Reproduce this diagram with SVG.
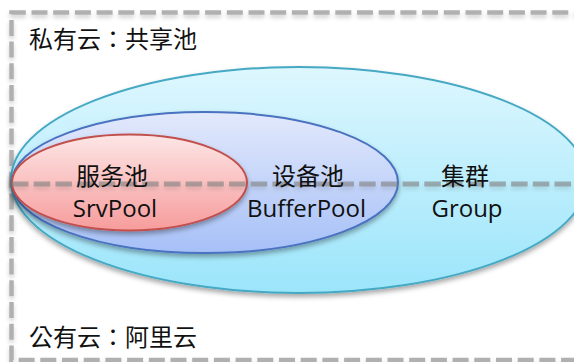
<svg xmlns="http://www.w3.org/2000/svg" width="574" height="362" viewBox="0 0 574 362">
  <style>
    .dash { fill: none; stroke: #b0b0b0; stroke-width: 4.5; stroke-dasharray: 16 5.7; }
    .mid { fill: none; stroke: #7f7f7f; stroke-opacity: 0.6; stroke-width: 5; stroke-dasharray: 16.5 5.2; }
    .lbl { font-family: "Open Sans", "Noto Sans CJK SC", sans-serif; font-size: 24px; fill: #111; text-anchor: middle; }
    .cap { font-family: "Noto Sans CJK TC", "Noto Sans CJK SC", sans-serif; font-size: 24px; fill: #111; }
  </style>
  <defs>
    <linearGradient id="gBig" x1="0" y1="0" x2="0" y2="1">
      <stop offset="0" stop-color="#def7fe"/>
      <stop offset="1" stop-color="#9be5fb"/>
    </linearGradient>
    <linearGradient id="gMid" x1="0" y1="0" x2="0" y2="1">
      <stop offset="0" stop-color="#e3e9fc"/>
      <stop offset="1" stop-color="#a6c0f7"/>
    </linearGradient>
    <linearGradient id="gRed" x1="0" y1="0" x2="0" y2="1">
      <stop offset="0" stop-color="#fde6e6"/>
      <stop offset="1" stop-color="#f79c9c"/>
    </linearGradient>
    <filter id="sh" x="-10%" y="-10%" width="120%" height="130%">
      <feDropShadow dx="0" dy="3" stdDeviation="2.5" flood-color="#000" flood-opacity="0.35"/>
    </filter>
    <filter id="shl" filterUnits="userSpaceOnUse" x="0" y="0" width="600" height="380">
      <feDropShadow dx="0" dy="3" stdDeviation="2" flood-color="#000" flood-opacity="0.18"/>
    </filter>
  </defs>

  <g id="frame" filter="url(#shl)">
    <path class="dash" d="M 590 12.5 H 11.5 V 360 H 590"/>
  </g>

  <g id="group">
    <ellipse cx="299" cy="180" rx="288" ry="113" fill="url(#gBig)" stroke="#45a9c4" stroke-width="2" filter="url(#sh)"/>
  </g>
  <g id="bufferpool">
    <ellipse cx="205" cy="182.5" rx="193" ry="70.5" fill="url(#gMid)" stroke="#4a72c0" stroke-width="2" filter="url(#sh)"/>
  </g>
  <g id="srvpool">
    <ellipse cx="129.5" cy="182.5" rx="117.5" ry="48" fill="url(#gRed)" stroke="#c0504d" stroke-width="2" filter="url(#sh)"/>
  </g>

  <g id="divider" filter="url(#shl)">
    <path class="mid" d="M 12 184 H 574"/>
  </g>

  <g id="labels">
    <text class="cap" x="29" y="48">私有云：共享池</text>
    <text class="cap" x="29" y="346">公有云：阿里云</text>
    <text class="lbl" x="112" y="185">服务池</text>
    <text class="lbl" x="115" y="217">SrvPool</text>
    <text class="lbl" x="308" y="185">设备池</text>
    <text class="lbl" x="306.5" y="217">BufferPool</text>
    <text class="lbl" x="465" y="185">集群</text>
    <text class="lbl" x="467" y="217">Group</text>
  </g>
</svg>
